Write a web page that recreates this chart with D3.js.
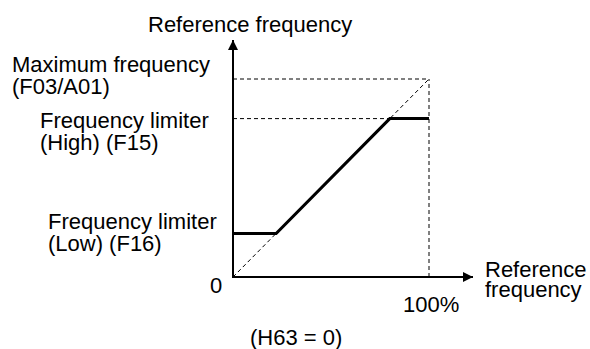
<!DOCTYPE html>
<html>
<head>
<meta charset="utf-8">
<script src="https://cdn.jsdelivr.net/npm/d3@7"></script>
<style>
  body { margin: 0; background: #fff; }
  text { font-family: "Liberation Sans", Arial, sans-serif; fill: #000; }
</style>
</head>
<body>
<div id="chart"></div>
<script>
// values (percent of maximum)
var maxFreq = 100;
var highLimit = 80;
var lowLimit = 22;
var refPoints = [0, 22, 80, 100];
var outPoints = [22, 22, 80, 80];
var diagonal = [[0, 0], [100, 100]];

var labels = [
  {lines: ["Maximum frequency", "(F03/A01)"], x: 12, y: 72},
  {lines: ["Frequency limiter", "(High) (F15)"], x: 40, y: 128},
  {lines: ["Frequency limiter", "(Low) (F16)"], x: 48, y: 229}
];

var width = 590, height = 349;

var svg = d3.select("#chart")
  .append("svg")
  .attr("width", width)
  .attr("height", height);

var x = d3.scaleLinear().domain([0, 100]).range([233, 429]);
var y = d3.scaleLinear().domain([0, 100]).range([277, 79]);

var defs = svg.append("defs");
defs.append("marker")
  .attr("id", "arrow")
  .attr("viewBox", "0 0 10 10")
  .attr("refX", 10).attr("refY", 5)
  .attr("markerWidth", 5).attr("markerHeight", 5)
  .attr("markerUnits", "strokeWidth")
  .attr("orient", "auto")
  .append("path")
  .attr("d", "M0,0 L10,5 L0,10 z")
  .attr("fill", "#000");

var line = d3.line()
  .x(function(d) { return x(d[0]); })
  .y(function(d) { return y(d[1]); });

// dashed guides
var dash = svg.append("g")
  .attr("stroke", "#000")
  .attr("stroke-width", 1)
  .attr("stroke-dasharray", "4,3")
  .attr("fill", "none");

dash.append("path").attr("d", line([[0, maxFreq], [100, maxFreq]]));
dash.append("path").attr("d", line([[0, highLimit], [refPoints[2], highLimit]]));
dash.append("path").attr("d", line([[100, 0], [100, maxFreq]]));
dash.append("path").attr("d", line(diagonal));

// axes
svg.append("line")
  .attr("x1", x(0)).attr("y1", y(0) + 1)
  .attr("x2", x(0)).attr("y2", 40)
  .attr("stroke", "#000").attr("stroke-width", 2)
  .attr("marker-end", "url(#arrow)");

svg.append("line")
  .attr("x1", x(0) - 1).attr("y1", y(0))
  .attr("x2", 473).attr("y2", y(0))
  .attr("stroke", "#000").attr("stroke-width", 2)
  .attr("marker-end", "url(#arrow)");

// limited output
svg.append("path")
  .attr("d", line(refPoints.map(function(d, i) { return [d, outPoints[i]]; })))
  .attr("fill", "none")
  .attr("stroke", "#000")
  .attr("stroke-width", 3);

// texts
var fs = "22px";

svg.append("text")
  .attr("x", 148).attr("y", 32)
  .style("font-size", fs)
  .text("Reference frequency");

labels.forEach(function(l) {
  var t = svg.append("text")
    .attr("x", l.x).attr("y", l.y)
    .style("font-size", fs);
  l.lines.forEach(function(s, i) {
    t.append("tspan").attr("x", l.x).attr("dy", i ? 22 : 0).text(s);
  });
});

svg.append("text")
  .attr("x", 216).attr("y", 293)
  .attr("text-anchor", "middle")
  .style("font-size", fs)
  .text("0");

svg.append("text")
  .attr("x", 403).attr("y", 312)
  .style("font-size", fs)
  .text("100%");

var rt = svg.append("text")
  .attr("x", 485).attr("y", 277)
  .style("font-size", fs);
rt.append("tspan").attr("x", 485).text("Reference");
rt.append("tspan").attr("x", 485).attr("dy", 20).text("frequency");

svg.append("text")
  .attr("x", 250).attr("y", 345)
  .style("font-size", fs)
  .text("(H63 = 0)");
</script>
</body>
</html>
